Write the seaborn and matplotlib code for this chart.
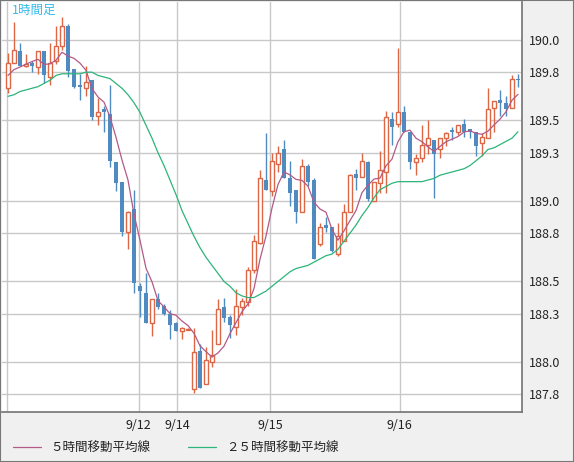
import numpy as np
import pandas as pd
import matplotlib
matplotlib.use("Agg")
import matplotlib.pyplot as plt
import seaborn as sns

sns.set_theme(style="white")
plt.rcParams['font.family'] = ['Noto Sans CJK JP', 'DejaVu Sans']

# hourly OHLC
opens = [189.70, 189.86, 189.93, 189.84, 189.86, 189.83, 189.93, 189.77, 189.87, 189.96,
         190.09, 189.82, 189.72, 189.70, 189.75, 189.53, 189.57, 189.54, 189.24, 189.12,
         188.81, 188.95, 188.47, 188.43, 188.24, 188.39, 188.35, 188.30, 188.24, 188.19,
         188.20, 187.83, 188.07, 187.86, 188.00, 188.11, 188.34, 188.28, 188.22, 188.34,
         188.37, 188.57, 188.74, 189.13, 189.06, 189.23, 189.32, 189.14, 189.07, 188.93,
         189.22, 189.13, 188.73, 188.85, 188.84, 188.67, 188.75, 188.93, 189.17, 189.15,
         189.24, 189.00, 189.11, 189.18, 189.51, 189.48, 189.55, 189.43, 189.24, 189.27,
         189.35, 189.38, 189.32, 189.39, 189.44, 189.43, 189.48, 189.45, 189.43, 189.36,
         189.39, 189.58, 189.63, 189.61, 189.58, 189.76]
highs = [189.92, 190.11, 189.98, 189.91, 189.87, 189.93, 189.93, 189.98, 190.09, 190.14,
         190.10, 189.82, 189.79, 189.84, 189.75, 189.64, 189.59, 189.72, 189.24, 189.12,
         188.94, 189.07, 188.49, 188.55, 188.39, 188.43, 188.36, 188.32, 188.25, 188.22,
         188.21, 188.21, 188.11, 188.09, 188.20, 188.39, 188.40, 188.29, 188.45, 188.40,
         188.59, 188.79, 189.19, 189.42, 189.30, 189.34, 189.38, 189.25, 189.07, 189.26,
         189.23, 189.14, 188.86, 188.90, 188.84, 188.86, 188.98, 189.17, 189.20, 189.30,
         189.25, 189.12, 189.31, 189.56, 189.55, 189.95, 189.59, 189.43, 189.29, 189.47,
         189.50, 189.38, 189.39, 189.43, 189.46, 189.47, 189.51, 189.45, 189.43, 189.42,
         189.70, 189.62, 189.69, 189.65, 189.78, 189.79]
lows = [189.67, 189.86, 189.84, 189.83, 189.80, 189.79, 189.73, 189.72, 189.85, 189.94,
        189.77, 189.70, 189.63, 189.65, 189.50, 189.47, 189.43, 189.21, 189.06, 188.78,
        188.70, 188.43, 188.28, 188.24, 188.16, 188.33, 188.29, 188.14, 188.19, 188.14,
        188.20, 187.81, 187.84, 187.86, 187.97, 188.11, 188.25, 188.15, 188.17, 188.29,
        188.35, 188.55, 188.73, 189.07, 189.03, 189.18, 189.14, 188.97, 188.86, 188.93,
        189.09, 188.64, 188.72, 188.81, 188.68, 188.66, 188.75, 188.93, 189.07, 189.15,
        189.00, 189.00, 189.05, 189.05, 189.35, 189.46, 189.43, 189.20, 189.16, 189.24,
        189.29, 189.02, 189.27, 189.34, 189.38, 189.41, 189.40, 189.39, 189.28, 189.28,
        189.39, 189.43, 189.53, 189.53, 189.58, 189.71]
closes = [189.86, 189.94, 189.84, 189.85, 189.84, 189.93, 189.78, 189.86, 189.96, 190.09,
          189.81, 189.71, 189.71, 189.74, 189.52, 189.55, 189.55, 189.25, 189.11, 188.81,
          188.93, 188.49, 188.44, 188.24, 188.39, 188.34, 188.30, 188.23, 188.19, 188.21,
          188.20, 188.06, 187.84, 188.01, 188.04, 188.33, 188.27, 188.23, 188.35, 188.38,
          188.57, 188.75, 189.14, 189.07, 189.25, 189.30, 189.14, 189.05, 188.93, 189.22,
          189.12, 188.64, 188.84, 188.83, 188.69, 188.78, 188.93, 189.16, 189.14, 189.25,
          189.01, 189.12, 189.19, 189.52, 189.46, 189.55, 189.43, 189.24, 189.27, 189.35,
          189.39, 189.29, 189.39, 189.42, 189.43, 189.47, 189.43, 189.43, 189.34, 189.40,
          189.57, 189.62, 189.61, 189.57, 189.76, 189.75]
# closes before the visible window (for the 5-hour average)
prior_closes = [189.76, 189.76, 189.76, 189.76]

ma25 = [189.65, 189.66, 189.68, 189.69, 189.70, 189.71, 189.73, 189.75, 189.78, 189.79,
        189.79, 189.79, 189.79, 189.80, 189.80, 189.78, 189.77, 189.76, 189.73, 189.70,
        189.66, 189.61, 189.55, 189.47, 189.39, 189.30, 189.22, 189.13, 189.04, 188.94,
        188.86, 188.78, 188.71, 188.65, 188.60, 188.55, 188.50, 188.47, 188.43, 188.41,
        188.40, 188.40, 188.42, 188.44, 188.47, 188.50, 188.53, 188.56, 188.58, 188.59,
        188.60, 188.62, 188.64, 188.66, 188.67, 188.70, 188.75, 188.80, 188.85, 188.91,
        188.96, 189.02, 189.07, 189.09, 189.11, 189.12, 189.12, 189.12, 189.12, 189.12,
        189.13, 189.14, 189.16, 189.17, 189.18, 189.19, 189.20, 189.22, 189.25, 189.28,
        189.32, 189.33, 189.35, 189.37, 189.39, 189.43]

y_ticks = [190.0, 189.8, 189.5, 189.3, 189.0, 188.8, 188.5, 188.3, 188.0, 187.8]
date_pos = [21.8, 28.2, 43.7, 65.3]
date_labels = ["9/12", "9/14", "9/15", "9/16"]

UP = '#dd6644'
DOWN = '#4f8ac0'
MA5_C = '#b35a86'
MA25_C = '#2db47a'

df = pd.DataFrame({"open": opens, "high": highs, "low": lows, "close": closes, "ma25": ma25})
df["idx"] = np.arange(len(df))
all_close = pd.Series(prior_closes + closes)
df["ma5"] = all_close.rolling(5).mean().iloc[len(prior_closes):].to_numpy()

fig = plt.figure(figsize=(5.74, 4.62), dpi=100, facecolor='#f0f0f0')
ax = fig.add_axes([2 / 574, 50 / 462, 520 / 574, 410 / 462])
ax.set_facecolor('white')

ax.set_xlim(-1, 85.67)
ax.set_ylim(187.689, 190.236)

for y in y_ticks:
    ax.axhline(y, color='#c8c8c8', linewidth=1, zorder=0)
for x in [-0.17] + date_pos:
    ax.axvline(x, color='#c8c8c8', linewidth=1, zorder=0)

up = df[df.close >= df.open]
dn = df[df.close < df.open]
ax.vlines(up.idx, up.low, up.high, color=UP, linewidth=1, zorder=2)
ax.vlines(dn.idx, dn.low, dn.high, color=DOWN, linewidth=1, zorder=2)
ax.bar(up.idx, (up.close - up.open).clip(lower=0.006), bottom=up.open, width=0.62,
       facecolor='white', edgecolor=UP, linewidth=1, zorder=3)
ax.bar(dn.idx, (dn.open - dn.close).clip(lower=0.006), bottom=dn.close, width=0.7,
       color=DOWN, linewidth=0, zorder=3)

sns.lineplot(x=df.idx, y=df.ma5, ax=ax, color=MA5_C, linewidth=0.9, zorder=4, label='５時間移動平均線')
sns.lineplot(x=df.idx, y=df.ma25, ax=ax, color=MA25_C, linewidth=0.9, zorder=4, label='２５時間移動平均線')

ax.yaxis.tick_right()
ax.set_yticks(y_ticks)
ax.set_yticklabels([f"{v:.1f}" for v in y_ticks], fontsize=9, color='#222222')
ax.set_xticks(date_pos)
ax.set_xticklabels(date_labels, fontsize=9, color='#222222')
ax.tick_params(axis='both', length=0, pad=5)
ax.set_xlabel('')
ax.set_ylabel('')
for s in ['top', 'left']:
    ax.spines[s].set_visible(False)
for s in ['right', 'bottom']:
    ax.spines[s].set_color('#777777')

ax.text(0.02, 0.995, '1時間足', transform=ax.transAxes, color='#33bbee', fontsize=9,
        ha='left', va='top')

ax.legend(loc='center left', bbox_to_anchor=(0.0, -0.088), ncol=2, frameon=False,
          fontsize=9, handlelength=2.2, columnspacing=3, labelcolor='#222222')

fig.patches.append(plt.Rectangle((0, 0), 1, 1, transform=fig.transFigure, fill=False,
                                 edgecolor='#777777', linewidth=1.5))

fig.savefig('out.png', dpi=100, facecolor=fig.get_facecolor())
